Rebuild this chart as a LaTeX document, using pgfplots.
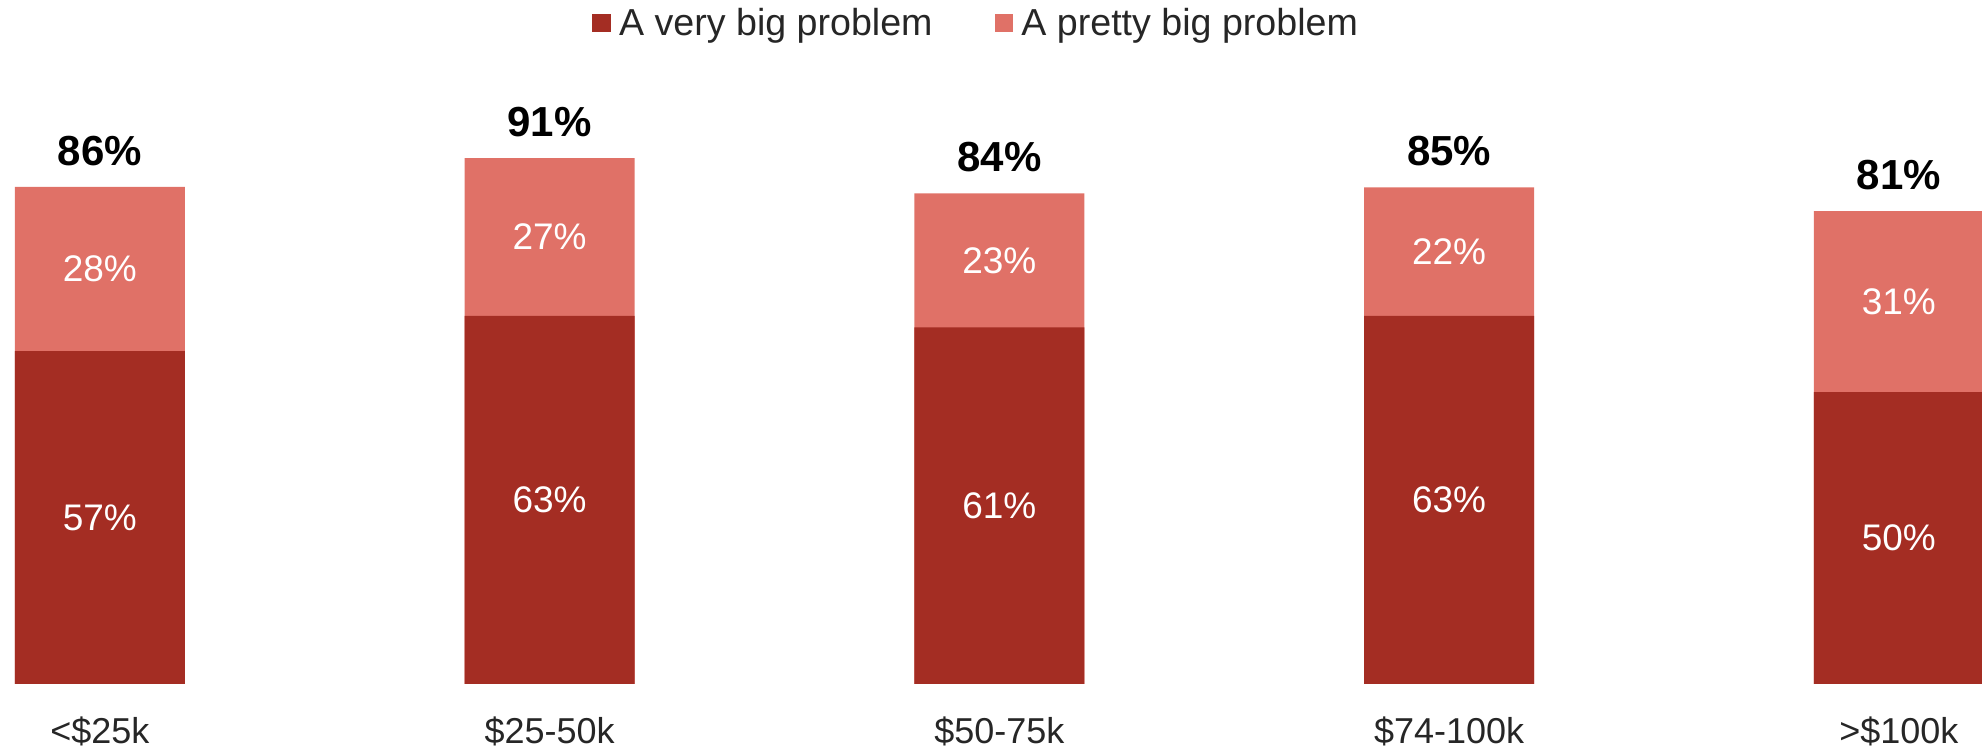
\documentclass[border=0pt]{standalone}
\usepackage{pgfplots}
\pgfplotsset{compat=1.18}
\usepackage{fontspec}
\setmainfont{Liberation Sans}
\definecolor{darkred}{RGB}{164,45,35}
\definecolor{lightred}{RGB}{224,113,103}
\definecolor{txtgray}{RGB}{38,38,38}
\begin{document}
\begin{tikzpicture}
\begin{axis}[
  name=ax,
  at={(0,0)}, anchor=south west,
  scale only axis,
  width=991pt, height=289pt,
  xmin=-0.222, xmax=4.185,
  ymin=0, ymax=100,
  hide y axis,
  axis x line*=bottom,
  x axis line style={draw=none},
  xtick={0,1,2,3,4},
  xticklabels={<\$25k,\$25-50k,\$50-75k,\$74-100k,>\$100k},
  xtick style={draw=none},
  xticklabel style={anchor=center, yshift=-23.5pt, font=\fontsize{18}{20}\selectfont, text=txtgray},
  legend columns=2,
  legend style={draw=none, fill=none, at={(0.493,1)}, anchor=center, yshift=41.5pt,
    font=\fontsize{18.8}{22}\selectfont, text=txtgray,
    /tikz/every even column/.append style={column sep=29pt},
    /tikz/every odd column/.append style={column sep=2pt},
    inner sep=0pt},
  legend image code/.code={\fill[#1] (0pt,-4.7pt) rectangle (9.4pt,4.7pt);},
]
\addlegendimage{fill=darkred, draw=none}
\addlegendentry{A very big problem}
\addlegendimage{fill=lightred, draw=none}
\addlegendentry{A pretty big problem}

% totals (pink bar drawn full height)
\addplot[ybar, bar width=85pt, bar shift=0pt, fill=lightred, draw=none, forget plot,
  point meta=explicit symbolic, nodes near coords,
  every node near coord/.append style={anchor=center, yshift=18pt, text=black,
    font=\fontsize{21}{24}\selectfont\bfseries}]
coordinates {(0,86.0)[86\%] (1,91.0)[91\%] (2,84.9)[84\%] (3,85.9)[85\%] (4,81.8)[81\%]};

% very big problem
\addplot[ybar, bar width=85pt, bar shift=0pt, fill=darkred, draw=none, forget plot]
coordinates {(0,57.6) (1,63.7) (2,61.7) (3,63.7) (4,50.5)};

% segment labels
\addplot[draw=none, mark=none, forget plot,
  point meta=explicit symbolic, nodes near coords,
  every node near coord/.append style={anchor=center, text=white,
    font=\fontsize{18.5}{22}\selectfont}]
coordinates {(0,28.8)[57\%] (1,31.85)[63\%] (2,30.85)[61\%] (3,31.85)[63\%] (4,25.25)[50\%]
             (0,71.8)[28\%] (1,77.35)[27\%] (2,73.3)[23\%] (3,74.8)[22\%] (4,66.15)[31\%]};
\end{axis}
\pgfresetboundingbox
\path[use as bounding box] ([yshift=-31.5pt]ax.south west) rectangle ([yshift=53pt]ax.north east);
\end{tikzpicture}
\end{document}
